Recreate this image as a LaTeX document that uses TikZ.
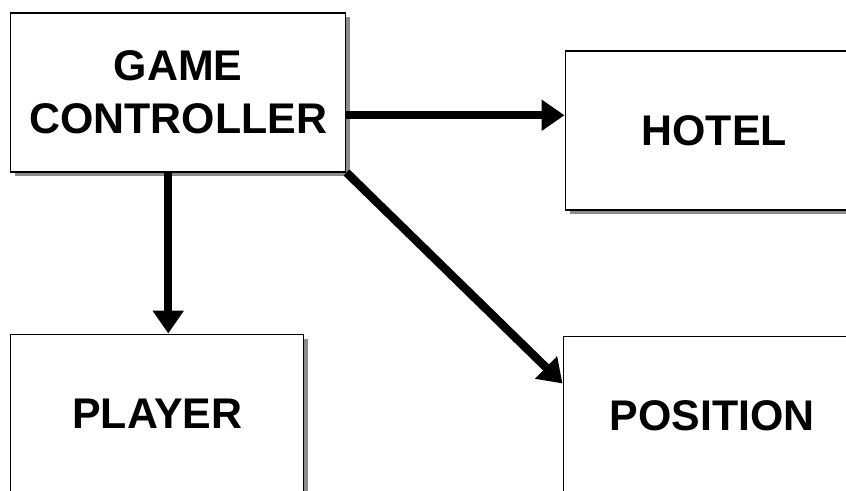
\documentclass[tikz,border=0pt]{standalone}
\usepackage{fontspec}
\setmainfont{Liberation Sans}
\usetikzlibrary{arrows.meta, positioning, shadows}
\definecolor{mshadow}{HTML}{5A5A5A}
\tikzstyle{block} = [rectangle, draw = black, line width = 0.85pt, fill = white, minimum width = 5.96cm, minimum height = 3.18cm, text centered, font = \bfseries\fontsize{24.4}{30.6}\selectfont, drop shadow = {shadow xshift = 0.09cm, shadow yshift = -0.09cm, fill = mshadow, opacity = 0.7}]
\tikzstyle{link} = [line width = 4.8pt, -{Triangle[length=0.46cm, width=0.6cm]}]

\begin{document}
\begin{tikzpicture}[align=center, node distance = 1cm]
  \useasboundingbox (0,0) rectangle (16.92,-9.8);
  \node (game) [block, minimum width = 6.7cm, anchor = north west] at (0.2,-0.24) {GAME\\CONTROLLER};
  \node (hotel) [block, right = 4.36cm of game, yshift = -0.76cm] {HOTEL};
  \node (player) [block, minimum width = 5.86cm, below = 3.22cm of game, xshift = -0.42cm] {PLAYER};
  \node (position) [block, right = 5.16cm of player, yshift = -0.04cm] {POSITION};
  \draw [link] ([yshift=-0.46cm]game.east) -- ([yshift=-0.46cm]game.east -| hotel.west);
  \draw [link] ([xshift=-0.2cm]game.south) -- ([xshift=-0.2cm]game.south |- player.north);
  \draw [link] (game.south east) -- ([yshift=-0.96cm]position.north west);
\end{tikzpicture}
\end{document}
